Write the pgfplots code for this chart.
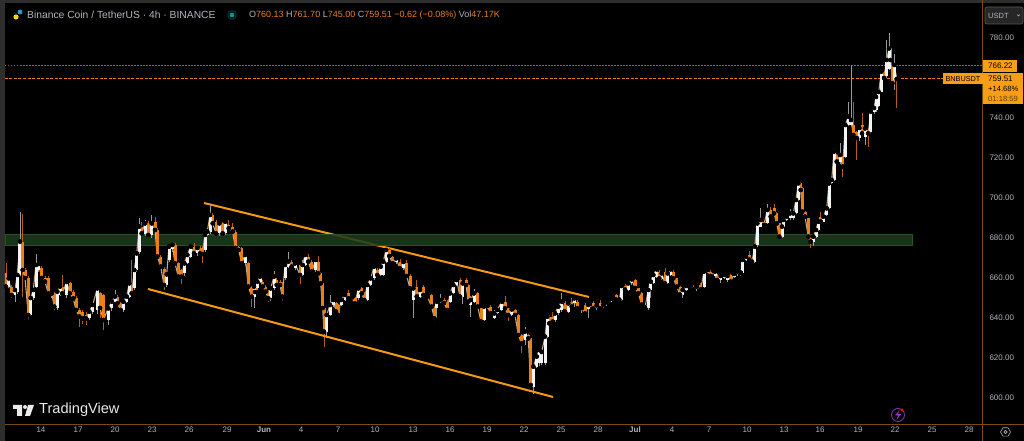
\documentclass[border=0pt]{standalone}
\usepackage{pgfplots}
\usepackage{pgfplotstable}
\usepackage{fontspec}
\setmainfont{Liberation Sans}
\pgfplotsset{compat=1.18}
\definecolor{cw}{HTML}{F4F4F4}
\definecolor{co}{HTML}{EE7F16}
\definecolor{wwick}{HTML}{9A9A9A}
\definecolor{owick}{HTML}{B4600F}
\definecolor{tick}{HTML}{B2B5BE}
\definecolor{brownax}{HTML}{7A4C10}
\definecolor{lab}{HTML}{F89E15}
\definecolor{chan}{HTML}{F59A12}
\definecolor{dline}{HTML}{A86414}
\definecolor{pline}{HTML}{F07A12}
\definecolor{bolta}{HTML}{8232AA}
\definecolor{boltb}{HTML}{913CBE}
\definecolor{timelab}{HTML}{643C00}
\definecolor{closeline}{HTML}{C8A888}
\pgfplotstableread{
x o h l c
6 662.3 667.3 655 655.7
8.7 655.7 660.5 655 659.8
11.7 655.7 656.5 650 651.5
15 651.5 654.5 648 654
17.3 653.2 662 652 661.5
20 661.5 693 661 678.2
22.7 678.2 692 650.7 664
25 664 665 659 660
28.3 660 661 641 641.5
30.7 641.5 651 641 650
33.3 650 654.5 649 654
36 655.7 672 655 666.5
38.7 664 667.5 663 667
41.7 664.8 666 659 660
45 660 661 657 658.2
48.3 659.8 661 651 652.3
51.7 651.7 653 650 652.3
54.3 652.3 653 644 645.7
57.3 645 654 644 653.2
60 651.5 656.5 651 655.7
62.3 655.7 661.5 651 652.3
66.7 651.5 658.5 650 658
70 657.3 658 651 652.3
73.3 653.2 654 649 649.8
76 650 651 643 644
79.3 644 645 635.7 640.7
82.7 643.2 644 637 639.8
86 641.5 643 636.5 639.8
89.3 639.8 644 639 643.2
92.7 643.2 647 642 646.5
97.3 644 655.5 642 654.8
100 652.3 653 640 645
103.3 651.5 652 634 639
108.3 639 645 636.5 644.8
111.7 644.8 648.5 643.5 648.2
115 648.2 654 647.5 650.7
117.3 650.7 651.5 646 647.3
120.7 647.3 648 643 644
123.3 644 648.5 643 648.2
126.7 648.2 651 647.5 650.7
129.3 650.7 657.5 650 657.3
131.7 655.7 669 652 652.3
134.3 654.8 664.5 654 664
136.7 664 672.5 663 672.3
139.3 673.2 690 672 685.7
141.7 685.7 688 682 682.3
145 682 689 681 687.3
148.3 687.3 688.5 681 681.5
151.7 681.5 691.5 680 687.3
155 688.2 690.5 683 684
157.3 684 685 670 670.7
160.7 670.7 671.5 665 665.7
164 664.5 665.5 654 656.5
166.7 656.5 662 655.5 661.8
169 669 677 668 675.7
172.3 674.5 677 673 676.5
175 676.5 677.5 666 667.3
178.3 667.3 668 660 660.7
181.7 663.9 664.5 657 660.7
184.3 662.3 668 661 667.3
187.3 667.3 672 667 671.5
190.7 670.7 676 670 675.7
194 675.7 677.5 672 672.3
197.3 672.3 676 671 675
200 675 676 672 672.3
202.3 675 676 667.5 672
205 674 681.5 673 681.5
207.3 681.5 683.5 681 683.2
210 683.2 697 682 691.5
212.7 691.5 692.5 686 687.3
216 688 689 681 682.3
219.3 682.3 688 681 687.3
222.7 687.3 688 682 682.3
225.3 682.3 689 681.5 688.2
228.7 686.5 689 684 684.8
232.7 685.7 687.5 683 683.2
235.3 683.2 684 674.5 675
238.7 675.7 676 673 674
241.7 675 675.5 666.5 667.3
245 667.3 671.5 666 671.5
248.3 667.3 668 655 655.7
251.7 655.7 656 645.7 650.7
254 650.7 656.5 645 655.7
255 654.8 656 652 653
257.3 654.8 658.5 654 658.2
260 658.2 661 657.5 660.7
262.7 658.2 659 655 655.7
265.7 655.7 656.5 652.5 653.2
268.3 653.2 654 648 649.8
270.7 649.8 655.5 648.5 654.8
274 654.8 663.5 654 660.7
276.7 659 660 655.5 656.5
280 658.2 659 655 656.5
282.3 657.3 658 650 650.7
285 659.8 667 659 666.5
288.3 665.7 673.2 665 668.2
291.7 668.2 669 665 665.7
295 664.8 668 664 667.3
300 666.5 667 657 661.5
302.7 661.5 669 661 666.5
305 666.5 671.7 666 671.5
308.3 670.7 672 668 668.2
311.7 668.2 669 662.5 663.2
315.7 664 669.5 663 669
318.3 668.2 671 661.5 662.3
320.7 662.3 663 656.5 657.3
322.7 657.3 658 644.5 645
324 644.8 645.5 625.7 633.2
326.7 633.2 642 629.8 641.5
330 641.5 651.5 641 646.5
333.3 646.5 649.5 645.5 649
336 647.3 648 642.5 643.2
338.3 646.5 647 640.7 641.5
341 646.5 650 646 649
345 649 651.5 648.5 651.5
348.3 652.3 654 649 649.8
351.7 649.5 650.8 649 650.3
355 649.8 650.5 646.5 647.3
358.3 649.8 655.5 649 654.8
361.7 654.8 655.5 651.5 652.3
364.3 652.3 653 648.5 649
367.3 649 657 648.5 656.5
370.7 656.5 660.5 656 659.8
374 659.8 666 659 665.7
377.3 664 665 661 661.5
380.7 661.5 666 661 665.7
383.3 661.5 668.5 661 668.2
386 668.2 674 667.5 674
389.3 674 675 670.5 671
392.7 670.7 671 667 667.3
396 667.8 669.8 667 669.8
400 668.2 669.5 664.5 664.8
403.3 664.8 668.5 664 668
406.7 667.3 669 660.5 661
410 661 662 654.5 654.8
413.3 649 655.5 639.8 654.8
416.7 655.7 659 650.5 650.7
420 650.7 654.5 650 654
423.3 655.7 656.5 651 651.5
427.3 651.5 652 650.5 650.7
431.7 651.5 652 645 645.7
434.3 645.7 646 639.5 639.8
436.7 644.8 649 640 648.2
440 648.2 652 647.5 649
444 649 650 647 647.5
447.3 648.2 649 643.5 644
450 648.2 653 647.5 652.3
453.3 652.3 656.5 652 656.5
456.7 656.5 659.5 656 659
460 659 660 650 650.7
462.7 650.7 657.5 647 657.3
466 659 660 656 656.5
468.3 656.5 657 648 648.2
470.7 646.5 651 640.5 649
474 648.2 654.3 647.5 652.3
477.7 652.3 653 645.5 645.7
481 644.8 645 637.5 638.2
484 639 647 638.5 645.7
487.3 645 647 644.5 646
490.7 645.7 646.5 642 642.3
494.3 639.8 644 639.5 642.3
497.3 642.3 644 642 644
501.7 644 648.5 643.5 648.2
505 648.2 651 644.5 644.8
508.3 644.8 645 638.5 641.5
511.7 641.5 645 641 644.3
515 644 644.5 641 641.5
518.3 641.5 642 631 631.5
521.7 631.5 632 622.5 627.3
525 629 635.7 626.5 633.2
528.3 631.5 632 629 629.8
530.7 629.8 630 606 606.5
533.3 605.7 616 602 615.7
536.7 615.7 621 615 620.7
539.3 617.3 625 616 624
541.7 617.3 623 616.5 623
545 617.3 631 616.5 630.7
547.3 630.7 641 630 640.7
549.3 640.7 641.5 637 637.3
552.7 640.7 643 637.5 638.2
555 639.2 642.6 638 642.3
558.3 642.3 646 641.5 645.7
561.7 644 652.3 643 648.2
565 647.3 648.5 642.5 643.2
568.3 643.2 648.5 642.5 647.3
571.7 648.2 650 645 645.7
574.3 647.3 650.5 645.5 649.8
577.7 648.2 649 644.5 644.8
581.7 644.5 645.7 642.5 645
585 646.5 647.5 642 642.3
588.3 644.3 646.8 640 646.5
593.3 647.3 648.5 643.5 644.8
596.7 645 647 644 646.3
600 647.3 649 644.5 644.8
603.3 645.5 646.8 645 646.5
606.7 647 648.5 646 647.9
610 648.2 649.5 648 649.3
613.3 649.3 650 648.5 649.8
616 651.5 652 649 649.2
619.3 649.8 650 649 649.2
621.7 649 656.5 648.5 656
625 656 657 654 654.2
628.3 654 657.5 653.5 657.3
631.7 657.3 659.5 656.5 659.3
635 659 659.5 654.8 655
638.3 654.8 655 652 652.3
641.7 652.3 652.8 646.5 646.7
645 646.5 647 645 645.3
648.3 645 654.5 644 654
650.7 654 658.5 650 658.2
653.3 657.5 662 657 661.5
656.7 660.5 664.5 660 664.3
659.3 663.2 664 659.5 659.8
661.7 659.3 663 659 662.3
665 663 665 657 657.3
667.7 657.3 662.5 657 662.3
670.7 661.5 664.5 661 664.3
673.3 663.2 664 659.5 659.8
676.7 659.8 660 655.5 655.7
680 655.7 656 651.5 651.7
682.7 651.5 654 650 654
686 654 656.5 653.5 656
689.3 654.8 656 654.5 655.7
693.3 655.7 656.5 653 654.3
696.7 654.3 656 653.5 655.7
700.7 656.5 657.5 653 654.3
704 655.7 664 655 663.2
707.3 663.2 665 662.5 664
710.7 663.2 664 660.5 661
715 661 663.4 660 663.2
717.3 661.5 662 658.5 659
720.7 659 661.5 657.5 661
724 660 662.5 659.5 661.5
727.3 659 661.2 658 661
730.7 661.5 662 657.5 658.2
734 660.7 662.5 660 662
737.3 662 664 661 663.2
740.7 663 663.5 661 662.7
742.7 662.3 669.2 662 669
746 669 671 668.5 670.7
749.3 671.5 673.5 669 669.2
752 669.8 670.5 668 668.2
754.7 668.2 675.9 667.5 675.7
757.3 676.5 688.5 675.5 687.3
760.7 685.7 695 685.5 689
764 688 689 686 686.5
767.3 687.3 697 687 694
770.7 694 695.5 690 690.7
774 694.8 697 692 692.3
776.7 692.3 693 687.1 687.3
779.3 687.3 687.5 680.5 680.7
782 680.7 686 680 685.7
783.3 685.7 689.2 685 689
786.7 689 691 688.5 690.7
790 689.8 694.5 689 692.3
793.3 689.8 692.5 689 692.3
796 692.3 699.2 692 699
798.3 699 707.5 698.5 707.3
800.7 707.3 708 703.8 704
802.3 705 705.5 693 693.2
805 693.2 693.5 690 690.7
808.3 689.8 690 680.5 680.7
810.7 680.7 681 675 678.2
813.3 678.2 681 676 680.7
816 680.7 684.2 680 684
818.3 684 688.5 683.5 688.2
820.7 690.7 693 688 688.2
823.3 688.2 691 688 690.7
826.7 691.5 695 691 694.8
829 694.8 707.5 694.5 707.3
831.7 707.3 709.5 707 709
834 709 723.5 708.5 723.2
836.7 721.5 722 718 718.2
840 718.2 727.5 717 721.5
842.7 720.7 721 710.5 715.7
845.3 720.7 736.7 720 736.5
848.3 736.5 748 736 740.7
851 736.5 766 736 739
853.3 736.5 748 731 731.5
856.7 733 733.5 719 730
859.3 729.8 735.2 728.5 735
862 736.5 742.5 731 732.3
865 730.7 735 726.5 734.8
868.3 734 734.8 725.7 732.3
870.7 733 743.5 732 743.2
874 743.2 745.2 742 745
876 744 750.7 743 750.5
878.7 746 753.5 745.5 753
881.3 753.2 763.5 753 763.2
884 763.2 763.5 759.5 760
886.7 760.8 779 760 769
889 764.5 782.5 764 774.8
890.7 774.8 775 768 769
892.3 766.5 767 757 757.3
894.3 759 772 754 766.5
896.7 760.13 761.7 745 759.51
}\candles
\pgfplotsset{
  upf/.style={unbounded coords=discard, x filter/.expression={\thisrow{c}>=\thisrow{o} ? x : nan}},
  dnf/.style={unbounded coords=discard, x filter/.expression={\thisrow{c}<\thisrow{o} ? x : nan}},
  bars/.style 2 args={only marks, mark=none, forget plot, error bars/.cd, y dir=both, y explicit, error mark=none, error bar style={line width=#1, color=#2, solid}},
}
\begin{document}
\begin{tikzpicture}[x=1pt,y=1pt]
\fill[black] (0,0) rectangle (1024,441);
\useasboundingbox (0,0) rectangle (1024,441);
\fill[black!82] (0,0) rectangle (4.5,441);
\fill[black!82] (0,438) rectangle (1024,441);
\begin{axis}[
  at={(5pt,17pt)}, anchor=south west,
  scale only axis, width=978pt, height=419pt,
  xmin=5, xmax=983, ymin=587, ymax=796.5,
  axis line style={draw=none},
  axis x line*=bottom, axis y line*=right,
  xtick={41,78,115,152,189,227,264,301,338,375,413,450,487,524,561,598,635,672,709,747,784,820,858,895,932,969},
  xticklabels={14,17,20,23,26,29,\textbf{Jun},4,7,10,13,16,19,22,25,28,\textbf{Jul},4,7,10,13,16,19,22,25,28},
  ytick={600,620,640,660,680,700,720,740,780},
  major tick length=0pt,
  tick style={draw=none},
  xticklabel style={font=\fontsize{8}{9}\selectfont, text=tick, yshift=1pt},
  yticklabel style={font=\fontsize{8}{9}\selectfont, text=tick, /pgf/number format/fixed, /pgf/number format/fixed zerofill, /pgf/number format/precision=2, /pgf/number format/assume math mode=true, xshift=3pt},
  scaled y ticks=false,
]
\addplot[color=chan, line width=2pt, forget plot] coordinates {(204,697.5)(589,650.5)};
\addplot[fill={rgb,255:red,30;green,60;blue,30}, draw={rgb,255:red,38;green,82;blue,38}, line width=.7pt, fill opacity=.88, forget plot] coordinates {(5,682)(912,682)(912,676.5)(5,676.5)} --cycle;
\addplot[color=dline, line width=1pt, dash pattern=on 1.5pt off 1.5pt, forget plot] coordinates {(5,766.22)(983,766.22)};
\addplot[color=pline, line width=1pt, dash pattern=on 3pt off 1.5pt, forget plot] coordinates {(5,759.51)(983,759.51)};
\addplot[upf, bars={.9pt}{wwick}] table[x=x, y=c, y error plus expr=\thisrow{h}-\thisrow{c}, y error minus expr=\thisrow{c}-\thisrow{l}] {\candles};
\addplot[dnf, bars={.9pt}{owick}] table[x=x, y=c, y error plus expr=\thisrow{h}-\thisrow{c}, y error minus expr=\thisrow{c}-\thisrow{l}] {\candles};
\addplot[color=closeline, line width=1.1pt, forget plot] table[x=x, y=c] {\candles};
\addplot[dnf, bars={3pt}{co}] table[x=x, y=c, y error plus expr=\thisrow{o}-\thisrow{c}, y error minus expr=0] {\candles};
\addplot[upf, bars={3pt}{cw}] table[x=x, y=c, y error plus expr=0, y error minus expr=\thisrow{c}-\thisrow{o}] {\candles};
\addplot[color=chan, line width=2pt, forget plot] coordinates {(148,654.5)(553,600.5)};
\end{axis}
\draw[brownax, line width=.9pt] (982.5,0) -- (982.5,441);
\draw[brownax, line width=.9pt] (5,17) -- (1024,17);
% header
\node[anchor=west, text=tick, font=\fontsize{10.3}{12}\selectfont, inner sep=0] at (27,426) {Binance Coin / TetherUS · 4h · BINANCE};
\fill[teal!80!cyan] (232,426) circle (2.4pt);
\draw[teal!40!black, line width=1.2pt] (232,426) circle (4.4pt);
\fill[yellow!70!orange] (16,424) circle (2.6pt);
\fill[cyan!60!teal] (20,429) circle (2.4pt);
\node[anchor=west, font=\fontsize{9}{10}\selectfont, inner sep=0] at (249,426) {\textcolor{tick}{O}\textcolor{co}{760.13} \textcolor{tick}{H}\textcolor{co}{761.70} \textcolor{tick}{L}\textcolor{co}{745.00} \textcolor{tick}{C}\textcolor{co}{759.51} \textcolor{co}{−0.62 (−0.08\%)} \textcolor{tick}{Vol}\textcolor{co}{47.17K}};
% USDT button
\fill[black!85!white, rounded corners=2pt] (985,417) rectangle (1023,434);
\draw[black!65, line width=.6pt, rounded corners=2pt] (985,417) rectangle (1023,434);
\node[text=tick, font=\fontsize{7.5}{9}\selectfont, inner sep=0, anchor=west] at (988,425.5) {USDT};
\draw[tick, line width=.6pt] (1017,426.5) -- (1018.5,425) -- (1020,426.5);
% price labels
\fill[lab] (983,369) rectangle (1017,381);
\node[text=black, font=\fontsize{8}{9}\selectfont, inner sep=0, anchor=west] at (988,375) {766.22};
\fill[lab] (943,357) rectangle (983,368);
\node[text=black, font=\fontsize{7.3}{9}\selectfont, inner sep=0] at (963,362.5) {BNBUSDT};
\fill[lab] (983,337) rectangle (1023,368);
\node[text=black, font=\fontsize{8}{9}\selectfont, inner sep=0, anchor=west] at (988,362.5) {759.51};
\node[text=black, font=\fontsize{7.6}{9}\selectfont, inner sep=0, anchor=west] at (988,352.5) {+14.68\%};
\node[text=timelab, font=\fontsize{7.6}{9}\selectfont, inner sep=0, anchor=west] at (988,342.5) {01:18:59};
% TradingView logo
\fill[black!8] (13,36) rectangle (22,32) (17,32) rectangle (22,25);
\fill[black!8] (25,34) circle (2pt);
\fill[black!8] (28,36) -- (34,36) -- (30,25) -- (25,25) -- cycle;
\node[anchor=west, text=black!8, font=\fontsize{14.6}{16}\selectfont, inner sep=0] at (39,31.5) {TradingView};
% bolt icon
\draw[bolta, line width=.9pt] (898,26) circle (6.5pt);
\fill[boltb] (899.5,31) -- (895,25.5) -- (898,25.5) -- (896.5,21) -- (901,26.8) -- (898,26.8) -- cycle;
\fill[red!90!orange] (902,31) circle (1.6pt);
% settings icon
\draw[tick, line width=.6pt] (1000.5,9) -- (1003,4.8) -- (1008,4.8) -- (1010.5,9) -- (1008,13.2) -- (1003,13.2) -- cycle;
\draw[tick, line width=.6pt] (1005.5,9) circle (1.6pt);
\end{tikzpicture}
\end{document}
